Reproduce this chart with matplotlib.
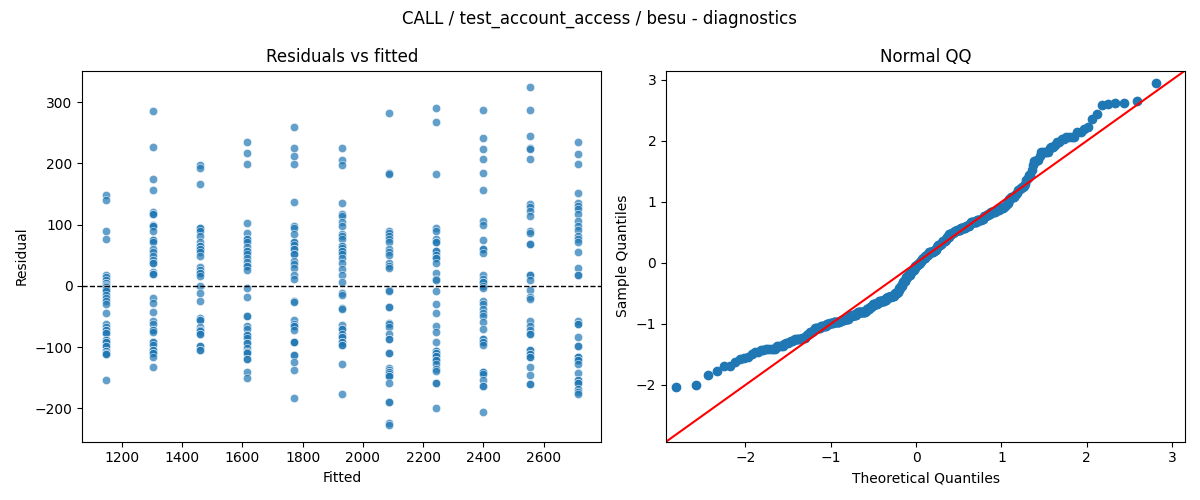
from statistics import NormalDist

import matplotlib
matplotlib.use("Agg")
import matplotlib.pyplot as plt
import numpy as np
import pandas as pd
import seaborn as sns

TITLE = "CALL / test_account_access / besu - diagnostics"

# fitted value levels (one per column of points)
fitted_levels = [1147, 1304, 1460, 1617, 1773, 1930, 2087, 2243, 2400, 2556, 2713]

# residuals, one list per fitted level
resid_1147 = [148, 141, 90, 77, 18, 14, 9, 5, 5, 2, 0, -2, -5, -5, -9, -15, -20, -25, -30, -44,
              -63, -67, -72, -72, -77, -77, -89, -89, -92, -92, -99, -99, -106, -106, -110, -112,
              -112, -153]
resid_1304 = [285, 226, 175, 157, 120, 117, 117, 100, 97, 97, 90, 75, 75, 72, 60, 56, 49, 43, 38, 38,
              23, 19, 19, -20, -28, -43, -58, -62, -72, -72, -76, -92, -92, -97, -105, -105, -109,
              -109, -117, -132]
resid_1460 = [198, 192, 166, 94, 94, 90, 82, 71, 65, 65, 60, 60, 55, 49, 30, 26, 21, 21, 16, 0,
              -11, -25, -52, -56, -56, -67, -72, -72, -74, -78, -78, -99, -99, -105, -105]
resid_1617 = [235, 217, 199, 102, 87, 76, 76, 72, 64, 57, 57, 52, 45, 39, 32, 32, 26, -3, -18, -49,
              -49, -65, -70, -81, -81, -85, -94, -94, -101, -108, -108, -110, -120, -120, -140, -150]
resid_1773 = [259, 225, 212, 199, 137, 97, 94, 84, 72, 72, 66, 60, 60, 52, 52, 41, 36, 29, 17, 12,
              -25, -26, -56, -62, -65, -65, -72, -92, -92, -92, -113, -113, -124, -138, -183]
resid_1930 = [225, 205, 198, 136, 117, 114, 104, 97, 85, 82, 76, 65, 65, 62, 57, 57, 52, 45, 38, 28,
              17, 6, -11, -15, -36, -38, -64, -70, -70, -78, -83, -83, -91, -91, -97, -97, -127, -177]
resid_2087 = [283, 184, 183, 90, 86, 82, 77, 71, 60, 56, 50, 37, 33, 29, -6, -9, -35, -35, -60, -63,
              -67, -78, -87, -87, -109, -109, -134, -138, -140, -140, -144, -148, -148, -159, -189,
              -189, -224, -227]
resid_2243 = [291, 267, 183, 94, 90, 76, 72, 72, 57, 57, 50, 45, 45, 37, 21, 12, 9, -8, -29, -44,
              -65, -76, -92, -106, -106, -110, -110, -114, -114, -121, -121, -128, -135, -139, -159,
              -159, -199]
resid_2400 = [288, 241, 223, 207, 184, 156, 106, 99, 75, 61, 61, 54, 17, 11, 6, 6, -1, -4, -24, -29,
              -38, -45, -49, -59, -71, -87, -87, -92, -92, -97, -141, -141, -144, -154, -164, -164,
              -206]
resid_2556 = [324, 288, 244, 225, 223, 207, 133, 129, 122, 114, 90, 87, 68, 68, 18, 18, 10, -6, -18, -22,
              -58, -65, -72, -78, -78, -105, -105, -112, -112, -117, -117, -132, -146, -161, -161]
resid_2713 = [235, 216, 199, 152, 136, 131, 125, 117, 106, 97, 92, 82, 77, 71, 56, 29, 18, 18, -58, -63,
              -63, -83, -98, -98, -117, -117, -117, -121, -121, -128, -143, -154, -154, -159, -159,
              -168, -173, -176]

resid_by_level = [resid_1147, resid_1304, resid_1460, resid_1617, resid_1773, resid_1930,
                  resid_2087, resid_2243, resid_2400, resid_2556, resid_2713]


def _build_frame() -> pd.DataFrame:
    rows = []
    for level, vals in zip(fitted_levels, resid_by_level):
        for v in vals:
            rows.append({"fitted": level, "resid": v})
    return pd.DataFrame(rows)


def _qq_points(resid: np.ndarray) -> tuple[np.ndarray, np.ndarray]:
    # standardised sample vs normal plotting positions i/(n+1)
    z = np.sort((resid - resid.mean()) / resid.std())
    n = len(z)
    nd = NormalDist()
    theo = np.array([nd.inv_cdf(i / (n + 1)) for i in range(1, n + 1)])
    return theo, z


def main() -> None:
    df = _build_frame()

    fig, (ax1, ax2) = plt.subplots(1, 2, figsize=(12, 5))

    sns.scatterplot(data=df, x="fitted", y="resid", alpha=0.7, ax=ax1)
    ax1.axhline(0, color="black", linestyle="--", linewidth=1)
    ax1.set_title("Residuals vs fitted")
    ax1.set_xlabel("Fitted")
    ax1.set_ylabel("Residual")

    theo, sample = _qq_points(df["resid"].to_numpy(dtype=float))
    ax2.plot(theo, sample, linestyle="none", marker="o",
             markerfacecolor="C0", markeredgecolor="C0")
    lo, hi = -2.93, 3.15
    ax2.plot([lo, hi], [lo, hi], "r-")
    ax2.set_xlim(lo, hi)
    ax2.set_ylim(lo, hi)
    ax2.set_title("Normal QQ")
    ax2.set_xlabel("Theoretical Quantiles")
    ax2.set_ylabel("Sample Quantiles")

    fig.suptitle(TITLE)
    fig.tight_layout()
    fig.savefig("out.png", dpi=100)
    plt.close(fig)


if __name__ == "__main__":
    main()
